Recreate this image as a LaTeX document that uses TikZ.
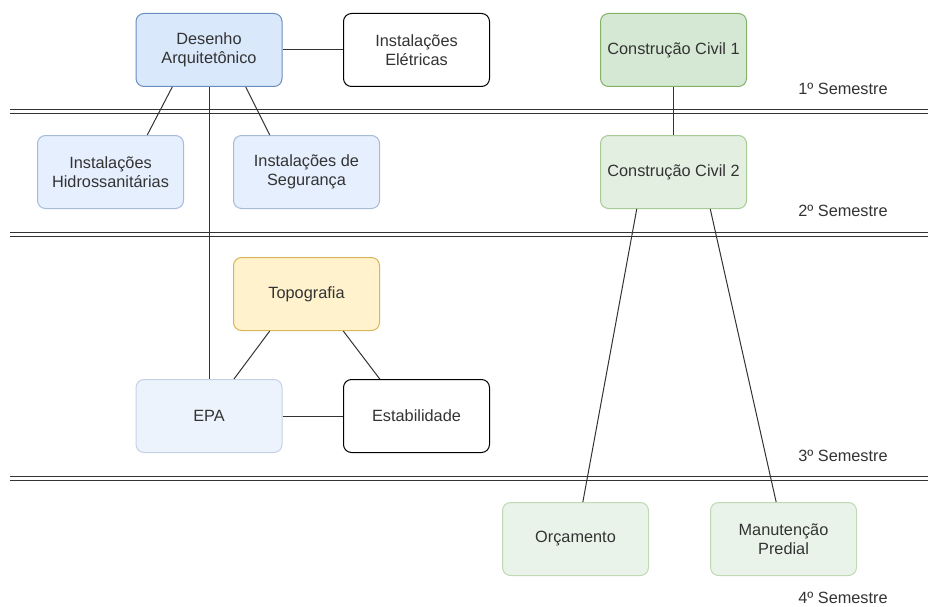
\documentclass[tikz,border=0pt]{standalone}
\usepackage{fontspec}
\setmainfont{Liberation Sans}
\usetikzlibrary{calc}

\definecolor{bluefill}{HTML}{DAE8FC}
\definecolor{bluedraw}{HTML}{6C8EBF}
\definecolor{bluefillb}{HTML}{E5EFFD}
\definecolor{bluedrawb}{HTML}{A7BBD9}
\definecolor{bluefillc}{HTML}{EDF3FD}
\definecolor{bluedrawc}{HTML}{C4D2E5}
\definecolor{greenfill}{HTML}{D5E8D4}
\definecolor{greendraw}{HTML}{82B366}
\definecolor{greenfillb}{HTML}{E2EFE1}
\definecolor{greendrawb}{HTML}{A8CA95}
\definecolor{greenfillc}{HTML}{EAF3EA}
\definecolor{greendrawc}{HTML}{C1D9B3}
\definecolor{yellowfill}{HTML}{FFF2CC}
\definecolor{yellowdraw}{HTML}{D6B656}
\definecolor{textgray}{HTML}{333333}
\definecolor{linegray}{HTML}{333333}

\begin{document}
\begin{tikzpicture}[x=1pt,y=-1pt,
	box/.style={rectangle,rounded corners=8pt,draw=black,fill=white,line width=1pt,
		minimum width=146pt,minimum height=73pt,align=center,text=textgray,
		font=\fontsize{16.3}{19.5}\selectfont},
	bluebox/.style={box,draw=bluedraw,fill=bluefill},
	lightbluebox/.style={box,draw=bluedrawb,fill=bluefillb},
	paleblue/.style={box,draw=bluedrawc,fill=bluefillc},
	greenbox/.style={box,draw=greendraw,fill=greenfill},
	lightgreen/.style={box,draw=greendrawb,fill=greenfillb},
	palegreen/.style={box,draw=greendrawc,fill=greenfillc},
	yellowbox/.style={box,draw=yellowdraw,fill=yellowfill},
	link/.style={draw=linegray,line width=1pt},
	sep/.style={draw=linegray,double=white,double distance=3pt,line width=1pt},
	sem/.style={text=textgray,inner sep=0pt,font=\fontsize{16.3}{19.5}\selectfont}]

	\useasboundingbox (0,0) rectangle (928,607);

	% semestres
	\draw[sep] (10,111.5) -- (928,111.5);
	\draw[sep] (10,234) -- (928,234);
	\draw[sep] (10,478) -- (928,478);
	\node[sem] (s1) at (843,89) {1º Semestre};
	\node[sem] (s2) at (843,211) {2º Semestre};
	\node[sem] (s3) at (843,456) {3º Semestre};
	\node[sem] (s4) at (843,598) {4º Semestre};

	\node[bluebox] (desenho) at (209,50) {Desenho\\Arquitetônico};
	\node[box] (eletricas) at (416.5,50) {Instalações\\Elétricas};
	\node[greenbox] (cc1) at (673.5,50) {Construção Civil 1};

	\node[lightbluebox] (hidro) at (110.5,172) {Instalações\\Hidrossanitárias};
	\node[lightbluebox] (seguranca) at (306.5,172) {Instalações de\\Segurança};
	\node[lightgreen] (cc2) at (673.5,172) {Construção Civil 2};

	\node[yellowbox] (topografia) at (306.5,294) {Topografia};
	\node[paleblue] (epa) at (209,416) {EPA};
	\node[box] (estabilidade) at (416.5,416) {Estabilidade};

	\node[palegreen] (orcamento) at (575.5,539) {Orçamento};
	\node[palegreen] (manutencao) at (783.5,539) {Manutenção\\Predial};

	% ligacoes
	\draw[link] (desenho) -- (eletricas);
	\draw[link] ($(desenho.south west)!.25!(desenho.south east)$) -- ($(hidro.north west)!.75!(hidro.north east)$);
	\draw[link] ($(desenho.south west)!.75!(desenho.south east)$) -- ($(seguranca.north west)!.25!(seguranca.north east)$);
	\draw[link] (desenho.south) -- (epa.north);
	\draw[link] (cc1) -- (cc2);
	\draw[link] ($(topografia.south west)!.25!(topografia.south east)$) -- ($(epa.north west)!.67!(epa.north east)$);
	\draw[link] ($(topografia.south west)!.75!(topografia.south east)$) -- ($(estabilidade.north west)!.25!(estabilidade.north east)$);
	\draw[link] (epa) -- (estabilidade);
	\draw[link] ($(cc2.south west)!.25!(cc2.south east)$) -- ($(orcamento.north west)!.55!(orcamento.north east)$);
	\draw[link] ($(cc2.south west)!.75!(cc2.south east)$) -- ($(manutencao.north west)!.45!(manutencao.north east)$);
\end{tikzpicture}
\end{document}
